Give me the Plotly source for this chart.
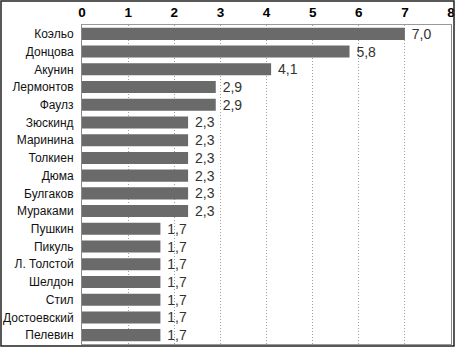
import plotly.graph_objects as go

authors = ["Коэльо", "Донцова", "Акунин", "Лермонтов", "Фаулз", "Зюскинд", "Маринина",
           "Толкиен", "Дюма", "Булгаков", "Мураками", "Пушкин", "Пикуль", "Л. Толстой",
           "Шелдон", "Стил", "Достоевский", "Пелевин"]
values = [7.0, 5.8, 4.1, 2.9, 2.9, 2.3, 2.3, 2.3, 2.3, 2.3, 2.3, 1.7, 1.7, 1.7, 1.7, 1.7, 1.7, 1.7]
tick_vals = [0, 1, 2, 3, 4, 5, 6, 7, 8]

L, R, T, B = 82, 5, 25, 4
W, H = 456, 348
pw, ph = W - L - R, H - T - B

fig = go.Figure(go.Bar(
    x=values, y=authors, orientation="h",
    marker=dict(color="#6a6a6a", line=dict(width=0)),
    width=0.68,
    texttemplate=" %{x:.1f}", textposition="outside",
    constraintext="none",
    textfont=dict(family="Liberation Sans, Arial", size=14, color="#333333"),
    cliponaxis=False,
    hoverinfo="skip",
))

fig.update_layout(
    width=W, height=H,
    margin=dict(l=L, r=R, t=T, b=B, autoexpand=False),
    paper_bgcolor="white", plot_bgcolor="white",
    separators=", ",
    showlegend=False,
    font=dict(family="Liberation Sans, Arial", color="#111111"),
    xaxis=dict(
        side="top", range=[0, 8], tickvals=tick_vals,
        tickfont=dict(family="Liberation Sans, Arial", size=13.5, color="#000000", weight="bold"),
        showgrid=True, gridcolor="#a0a0a0", griddash="1px,2px", gridwidth=1,
        zeroline=False, showline=True, linecolor="#999999", linewidth=1, mirror=True,
        ticks="", ticklabelstandoff=2, automargin=False,
    ),
    yaxis=dict(
        autorange="reversed",
        tickfont=dict(family="Liberation Sans, Arial", size=12, color="#111111"),
        showline=True, linecolor="#888888", linewidth=1, mirror=True,
        ticks="", ticklabelstandoff=5, automargin=False,
    ),
    shapes=[dict(type="rect", xref="paper", yref="paper", layer="above",
                 x0=-(L - 1) / pw, x1=1 + (R - 2) / pw,
                 y0=-(B - 2) / ph, y1=1 + (T - 1) / ph,
                 line=dict(color="#222222", width=1.5))],
)

fig.write_html("out.html", config={"displayModeBar": False},
               post_script="document.body.style.margin='0';")
